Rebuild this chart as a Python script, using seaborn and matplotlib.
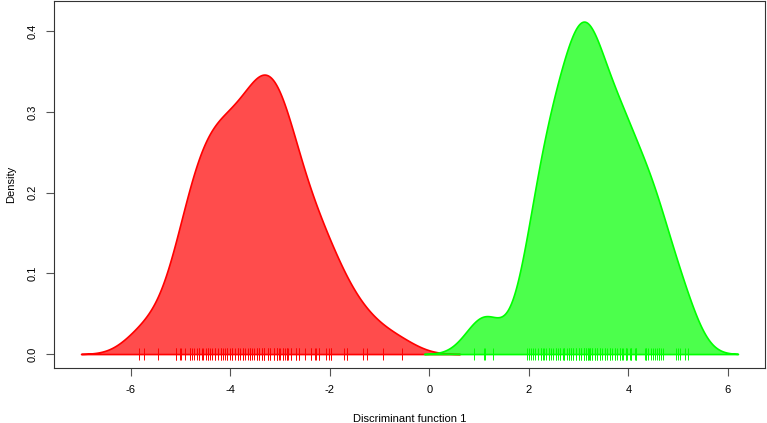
import numpy as np
import pandas as pd
import matplotlib
matplotlib.use('Agg')
import matplotlib.pyplot as plt
import seaborn as sns

# discriminant scores (overlapping ticks repeated)
grp1 = [-5.83, -5.73, -5.45, -5.09, -5.09, -5.01, -4.98, -4.91, -4.81, -4.81,
        -4.77, -4.73, -4.66, -4.62, -4.62, -4.57, -4.54, -4.49, -4.45, -4.45,
        -4.41, -4.36, -4.31, -4.31, -4.24, -4.19, -4.19, -4.14, -4.11, -4.07,
        -4.07, -4.01, -3.96, -3.96, -3.91, -3.85, -3.85, -3.80, -3.74, -3.74,
        -3.70, -3.65, -3.60, -3.60, -3.56, -3.52, -3.47, -3.47, -3.42, -3.42,
        -3.37, -3.37, -3.32, -3.32, -3.32, -3.25, -3.25, -3.20, -3.20, -3.12,
        -3.12, -3.06, -3.06, -3.02, -3.00, -2.94, -2.94, -2.90, -2.86, -2.86,
        -2.83, -2.77, -2.77, -2.67, -2.67, -2.62, -2.62, -2.50, -2.37, -2.37,
        -2.30, -2.28, -2.22, -2.22, -2.08, -2.01, -1.98, -1.98, -1.71, -1.65,
        -1.65, -1.33, -1.26, -0.93, -0.55, -3.06]
grp2 = [0.90, 1.10, 1.13, 1.28, 1.96, 2.00, 2.04, 2.08, 2.13, 2.18, 2.24, 2.24,
        2.28, 2.30, 2.35, 2.40, 2.40, 2.44, 2.49, 2.54, 2.54, 2.58, 2.63, 2.63,
        2.68, 2.71, 2.71, 2.76, 2.81, 2.81, 2.85, 2.85, 2.89, 2.89, 2.95, 2.95,
        3.00, 3.00, 3.05, 3.05, 3.10, 3.10, 3.10, 3.15, 3.15, 3.18, 3.18, 3.20,
        3.23, 3.23, 3.28, 3.28, 3.34, 3.34, 3.38, 3.38, 3.43, 3.43, 3.48, 3.54,
        3.54, 3.58, 3.63, 3.63, 3.68, 3.74, 3.74, 3.78, 3.83, 3.83, 3.87, 3.89,
        3.95, 3.95, 3.97, 4.03, 4.06, 4.06, 4.13, 4.16, 4.16, 4.33, 4.36, 4.36,
        4.39, 4.46, 4.49, 4.53, 4.57, 4.61, 4.61, 4.66, 4.70, 4.96, 5.00, 5.04,
        5.13, 5.20]
colors = ['#ff0000', '#00ff00']
yticks = [0.0, 0.1, 0.2, 0.3, 0.4]
xticks = [-6, -4, -2, 0, 2, 4, 6]

plt.rcParams['font.family'] = ['Liberation Sans', 'DejaVu Sans']

def nrd0(x):
    # R's default bandwidth rule
    x = np.asarray(x)
    s = min(np.std(x, ddof=1), (np.percentile(x, 75) - np.percentile(x, 25)) / 1.34)
    return 0.9 * s * len(x) ** -0.2

fig = plt.figure(figsize=(7.67, 4.23), dpi=100)
ax = fig.add_axes([0.0704, 0.13, 0.9266, 0.867])

for vals, col in zip([grp1, grp2], colors):
    bw = nrd0(vals) / np.std(vals, ddof=1)
    sns.kdeplot(x=vals, ax=ax, bw_method=bw, cut=3, fill=True, color=col,
                alpha=0.7, linewidth=1.2, gridsize=400)

for vals, col in zip([grp1, grp2], colors):
    ax.vlines(vals, -0.007, 0.0075, color=col, linewidth=0.7)

ax.set_xlim(-7.54, 6.74)
ax.set_ylim(-0.0173, 0.437)
ax.set_xticks(xticks)
ax.set_xticklabels([str(t) for t in xticks], fontsize=8)
ax.set_yticks(yticks)
ax.set_yticklabels([f'{t:.1f}' for t in yticks], fontsize=8, rotation=90, va='center')
ax.tick_params(axis='both', direction='out', length=6, width=0.8, color='#555555', pad=6)
ax.set_xlabel('Discriminant function 1', fontsize=8, labelpad=14)
ax.set_ylabel('Density', fontsize=8, labelpad=8)
for sp in ax.spines.values():
    sp.set_linewidth(0.8)
    sp.set_color('#333333')

fig.savefig('out.png', dpi=100)
